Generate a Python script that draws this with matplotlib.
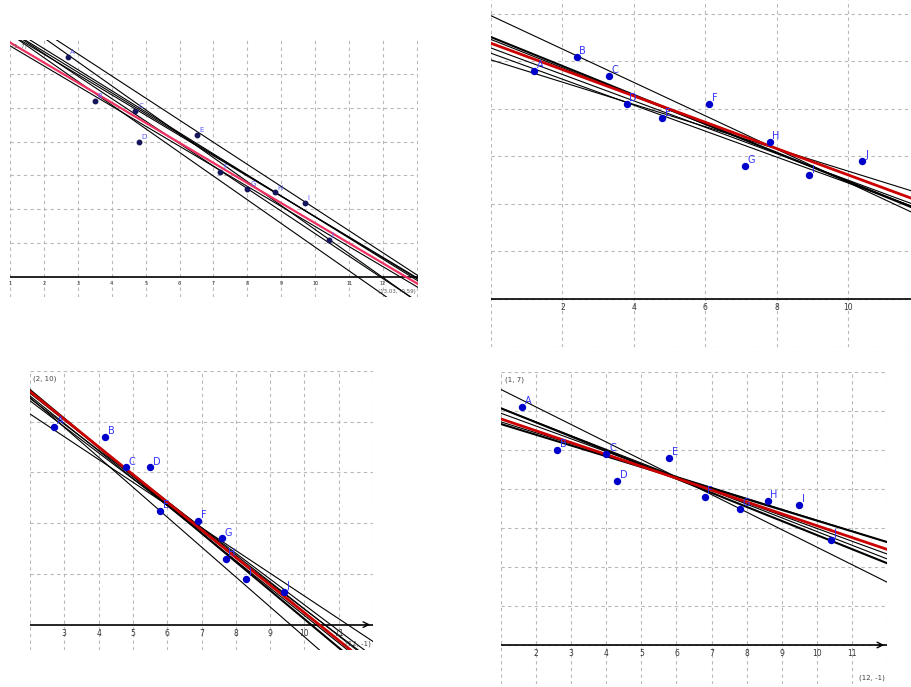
import matplotlib
matplotlib.use("Agg")
import matplotlib.pyplot as plt

names = ["A", "B", "C", "D", "E", "F", "G", "H", "I", "J"]

# panel 1 (top left)
p1_x = [2.7, 3.5, 4.7, 4.8, 6.5, 7.2, 8.0, 8.8, 9.7, 10.4]
p1_y = [6.5, 5.2, 4.9, 4.0, 4.2, 3.1, 2.6, 2.5, 2.2, 1.1]
p1_slope = [-0.653, -0.708, -0.600, -0.610, -0.622, -0.593, -0.665, -0.700]
p1_icept = [8.55, 8.48, 7.78, 7.88, 7.99, 7.42, 7.93, 7.88]
p1_red = (-0.593, 7.52)
p1_ticks = [1, 2, 3, 4, 5, 6, 7, 8, 9, 10, 11, 12]

# panel 2 (top right)
p2_x = [1.2, 2.4, 3.3, 3.8, 4.8, 6.1, 7.1, 7.8, 8.9, 10.4]
p2_y = [4.8, 5.1, 4.7, 4.1, 3.8, 4.1, 2.8, 3.3, 2.6, 2.9]
p2_slope = [-0.351, -0.304, -0.298, -0.278, -0.273, -0.234]
p2_icept = [5.96, 5.51, 5.46, 5.28, 5.17, 5.03]
p2_red = (-0.277, 5.38)
p2_ticks = [2, 4, 6, 8, 10]

# panel 3 (bottom left)
p3_x = [2.7, 4.2, 4.8, 5.5, 5.8, 6.9, 7.6, 7.7, 8.3, 9.4]
p3_y = [7.8, 7.4, 6.2, 6.2, 4.5, 4.1, 3.4, 2.6, 1.8, 1.3]
p3_slope = [-1.129, -1.063, -1.082, -1.017, -1.027, -1.180, -0.897]
p3_icept = [11.51, 11.25, 11.18, 10.95, 10.88, 11.32, 10.10]
p3_red = (-1.09, 11.37)
p3_ticks = [3, 4, 5, 6, 7, 8, 9, 10, 11]

# panel 4 (bottom right)
p4_x = [1.6, 2.6, 4.0, 4.3, 5.8, 6.8, 7.8, 8.6, 9.5, 10.4]
p4_y = [6.1, 5.0, 4.9, 4.2, 4.8, 3.8, 3.5, 3.7, 3.6, 2.7]
p4_slope = [-0.449, -0.361, -0.351, -0.328, -0.275, -0.280]
p4_icept = [7.00, 6.43, 6.42, 6.27, 5.94, 6.00]
p4_red = (-0.304, 6.10)
p4_ticks = [2, 3, 4, 5, 6, 7, 8, 9, 10, 11]

W, H = 911, 687
fig = plt.figure(figsize=(W / 100, H / 100), dpi=100)


def panel(l, t, r, b, xlim, ylim, xgrid, ygrid):
    ax = fig.add_axes([l / W, 1 - b / H, (r - l) / W, (b - t) / H])
    ax.set_xlim(*xlim)
    ax.set_ylim(*ylim)
    ax.axis("off")
    for g in xgrid:
        ax.axvline(g, color="#b8b8b8", lw=0.8, ls=(0, (3, 3)), zorder=0)
    for g in ygrid:
        ax.axhline(g, color="#b8b8b8", lw=0.8, ls=(0, (3, 3)), zorder=0)
    ax.axhline(0, color="black", lw=1.2, zorder=1)
    return ax


def fill(ax, xs, ys, slopes, icepts, red, ticks, fs, msize, pcol, lcol, redcol, redw, thick=()):
    for i, (m, c) in enumerate(zip(slopes, icepts)):
        ax.axline((0, c), slope=m, color="black", lw=1.5 if i in thick else 0.8, zorder=2)
    ax.axline((0, red[1]), slope=red[0], color=redcol, lw=redw, zorder=3)
    ax.plot(xs, ys, "o", color=pcol, ms=msize, zorder=4, mec=pcol)
    for n, x, y in zip(names, xs, ys):
        ax.annotate(n, (x, y), xytext=(2, 2), textcoords="offset points",
                    color=lcol, fontsize=fs, zorder=5)
    for tk in ticks:
        ax.annotate(str(tk), (tk, 0), xytext=(0, -3), textcoords="offset points",
                    ha="center", va="top", fontsize=fs - 1.5, color="#333333")


ax1 = panel(10, 40, 418, 297, (1, 13.03), (-0.59, 7), range(1, 14), range(1, 7))
fill(ax1, p1_x, p1_y, p1_slope, p1_icept, p1_red, p1_ticks, 5, 3.2,
     "#14145a", "#5a5aff", "#f03060", 1.6)
ax1.text(0.995, 0.01, "(13.03, -0.59)", transform=ax1.transAxes, ha="right",
         va="bottom", fontsize=4, color="#555555")
ax1.text(0.005, 0.985, "(1, 7)", transform=ax1.transAxes, ha="left", va="top",
         fontsize=4, color="#555555")

ax2 = panel(491, 0, 911, 347, (0, 11.76), (-1.01, 6.29), range(0, 12, 2), range(-1, 7))
fill(ax2, p2_x, p2_y, p2_slope, p2_icept, p2_red, p2_ticks, 7, 4.3,
     "#0000cc", "#3333ff", "#cc0000", 2.0, thick=(1,))

ax3 = panel(30, 371, 373, 650, (2, 12), (-1, 10), range(2, 13), range(2, 11, 2))
fill(ax3, p3_x, p3_y, p3_slope, p3_icept, p3_red, p3_ticks, 7, 4.3,
     "#0000cc", "#3333ff", "#cc0000", 2.0, thick=(0,))
ax3.annotate("", xy=(12, 0), xytext=(11.7, 0),
             arrowprops=dict(arrowstyle="->", color="black", lw=1.0))
ax3.text(0.01, 0.985, "(2, 10)", transform=ax3.transAxes, ha="left", va="top",
         fontsize=5, color="#444444")
ax3.text(0.995, 0.01, "(12, -1)", transform=ax3.transAxes, ha="right", va="bottom",
         fontsize=5, color="#444444")

ax4 = panel(501, 372, 887, 684, (1, 12), (-1, 7), range(1, 13), range(-1, 8))
fill(ax4, p4_x, p4_y, p4_slope, p4_icept, p4_red, p4_ticks, 7, 4.3,
     "#0000cc", "#3333ff", "#cc0000", 2.0, thick=(1, 4))
ax4.annotate("", xy=(12, 0), xytext=(11.7, 0),
             arrowprops=dict(arrowstyle="->", color="black", lw=1.0))
ax4.text(0.01, 0.985, "(1, 7)", transform=ax4.transAxes, ha="left", va="top",
         fontsize=5, color="#444444")
ax4.text(0.995, 0.01, "(12, -1)", transform=ax4.transAxes, ha="right", va="bottom",
         fontsize=5, color="#444444")

fig.savefig("out.png", dpi=100)
